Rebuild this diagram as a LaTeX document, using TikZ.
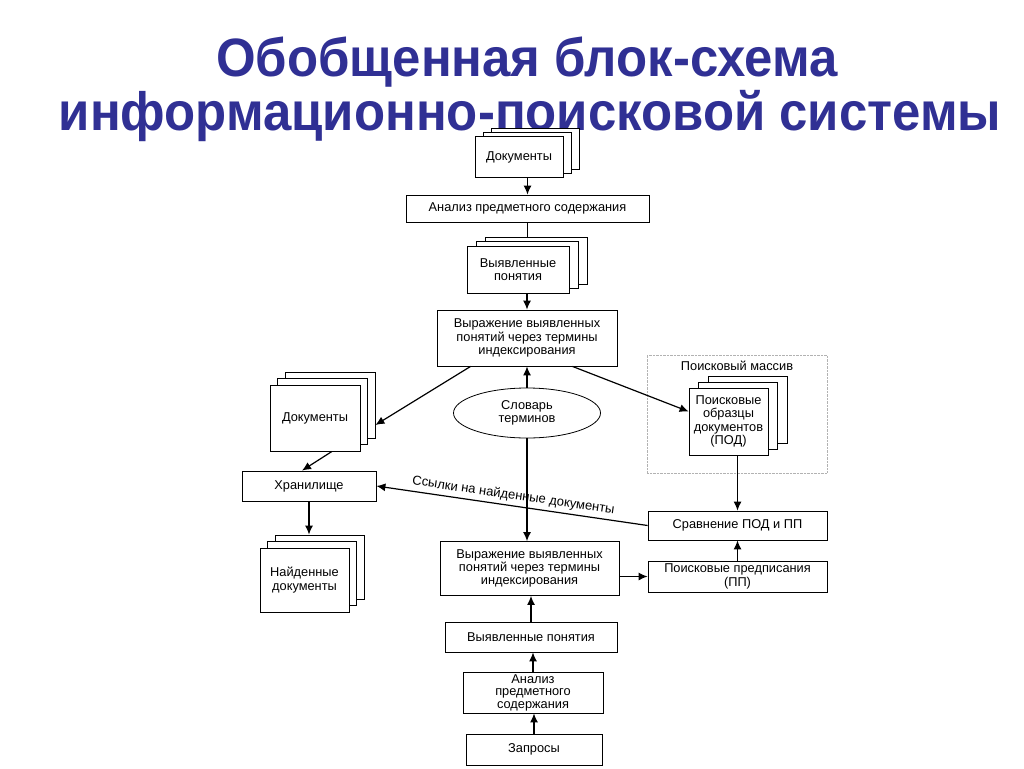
\documentclass[tikz,border=0pt]{standalone}
\usepackage{fontspec}
\setmainfont{Liberation Sans}
\usetikzlibrary{positioning,shadows,shapes.geometric,calc,arrows.meta}
\definecolor{titleblue}{RGB}{48,48,148}
\begin{document}
\begin{tikzpicture}[x=1pt, y=-1pt,
    title/.style={text=titleblue, font=\fontsize{54}{60}\selectfont\bfseries, xscale=.943, transform shape, inner sep=0pt},
    box/.style={draw, fill=white, line width=.8pt, align=center, inner sep=1pt, font=\fontsize{12.8}{13.4}\selectfont},
    stack/.style args={#1/#2}{box,
      copy shadow={shadow xshift=2*#1, shadow yshift=2*#2, draw=black, fill=white},
      copy shadow={shadow xshift=#1, shadow yshift=#2, draw=black, fill=white}}]
    \tikzset{>={Latex[length=9pt,width=8pt]}}
    \useasboundingbox (0,0) rectangle (1024,768);
    % title
    \node [title, anchor=base] (t1) at (527,76) {Обобщенная блок-схема};
    \node [title, anchor=base] (t2) at (530,130) {информационно-поисковой системы};
    % documents side
    \node [stack=8pt/4pt, minimum width=88, minimum height=41] (docsT) at (519,157) {Документы};
    \node [box, minimum width=243, minimum height=27] (anaT) at (527.5,208.5) {Анализ предметного содержания};
    \node [stack=9pt/4.5pt, minimum width=102, minimum height=47] (concT) at (518,269.5) {Выявленные\\понятия};
    \node [box, minimum width=180, minimum height=56] (exprT) at (527,338) {Выражение выявленных\\понятий через термины\\индексирования};
    \node [stack=7.5pt/6.5pt, minimum width=90, minimum height=66] (docsL) at (315,418) {Документы};
    \node [box, minimum width=134, minimum height=30] (store) at (309,486) {Хранилище};
    \node [stack=7.5pt/6.5pt, minimum width=89, minimum height=64] (found) at (304.5,580) {Найденные\\документы};
    \node [box, ellipse, minimum width=147, minimum height=50] (dict) at (527,413) {Словарь\\терминов};
    % search array
    \node [draw=gray!60, densely dotted, minimum width=180, minimum height=118] (arr) at (737,414) {};
    \node [font=\fontsize{12.8}{13.4}\selectfont, below=3pt of arr.north] (arrlbl) {Поисковый массив};
    \node [stack=9.5pt/6pt, minimum width=79, minimum height=67] (pod) at (728.5,421.5) {Поисковые\\образцы\\документов\\(ПОД)};
    \node [box, minimum width=179, minimum height=29] (cmp) at (737.5,525.5) {Сравнение ПОД и ПП};
    % query side
    \node [box, minimum width=179, minimum height=54] (exprB) at (529.5,568.5) {Выражение выявленных\\понятий через термины\\индексирования};
    \node [box, minimum width=179, minimum height=31] (pres) at (737.5,576.5) {Поисковые предписания\\(ПП)};
    \node [box, minimum width=172, minimum height=30] (concB) at (531,637) {Выявленные понятия};
    \node [box, minimum width=140, minimum height=41, font=\fontsize{12.8}{12.5}\selectfont] (anaB) at (533,692.5) {Анализ\\предметного\\содержания};
    \node [box, minimum width=136, minimum height=31] (query) at (534,749.5) {Запросы};
    % connectors
    \begin{scope}[line width=1.2pt]
    \draw [->] (docsT.south -| anaT) -- (anaT.north);
    \draw (anaT.south) -- ($(anaT.south |- concT.north)+(0,-9)$);
    \draw [->] (concT.south -| exprT) -- (exprT.north);
    \draw [->] ($(exprT.south west)+(34,0)$) -- ($(docsL.east)+(15,7)$);
    \draw [->] ($(exprT.south east)+(-45,0)$) -- ($(pod.west)+(0,-10)$);
    \draw [->] (dict.north) -- (dict.north |- exprT.south);
    \draw [->] (dict.south) -- (dict.south |- exprB.north);
    \draw [->] ($(docsL.south)+(17,0)$) -- ($(store.north)+(-7,0)$);
    \draw [->] (store.south) -- ($(store.south |- found.north)+(0,-13)$);
    \draw [->] (pod.south -| cmp) -- (cmp.north);
    \draw [->] (pres.north) -- (cmp.south);
    \draw [->] (exprB.east |- pres) -- (pres.west);
    \draw [->] (cmp.west) -- node [sloped, above, font=\fontsize{13}{15}\selectfont] {Ссылки на найденные документы} (store.east);
    \draw [->] (concB.north) -- (concB.north |- exprB.south);
    \draw [->] (anaB.north) -- (anaB.north |- concB.south);
    \draw [->] (query.north) -- (query.north |- anaB.south);
    \end{scope}
\end{tikzpicture}
\end{document}
